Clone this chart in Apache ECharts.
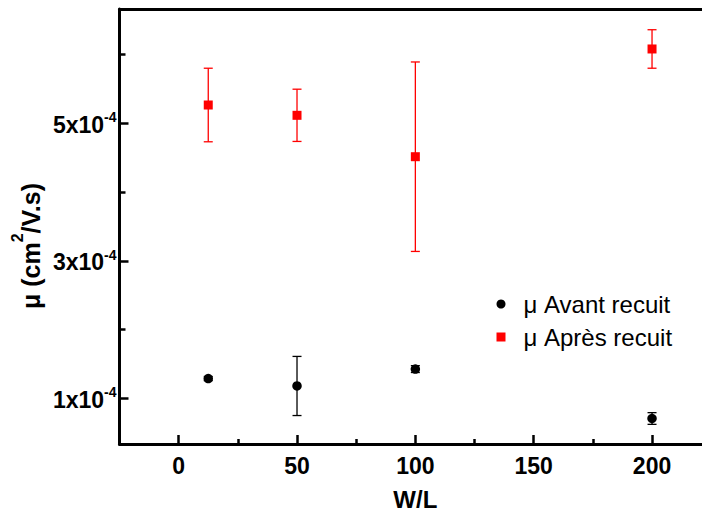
<!DOCTYPE html>
<html><head><meta charset="utf-8">
<script src="https://cdn.jsdelivr.net/npm/echarts@6.0.0/dist/echarts.min.js"></script>
<style>html,body{margin:0;padding:0;background:#fff}#c{width:702px;height:519px}</style>
</head><body><div id="c"></div>
<script>
// ---- data ----
const wl = [12.5, 50, 100, 200];
const avant = [1.287e-4, 1.179e-4, 1.425e-4, 0.706e-4];
const avantErr = [0.03e-4, 0.43e-4, 0.05e-4, 0.085e-4];
const apres = [5.266e-4, 5.116e-4, 4.514e-4, 6.081e-4];
const apresErr = [0.535e-4, 0.38e-4, 1.378e-4, 0.28e-4];
const xMajorTicks = [0, 50, 100, 150, 200];
const xMinorTicks = [25, 75, 125, 175];
const yMajorTicks = [1e-4, 3e-4, 5e-4];
const yMinorTicks = [2e-4, 4e-4, 6e-4];
const seriesNames = ['μ Avant recuit', 'μ Après recuit'];
const xTitle = 'W/L';

const FONT = 'Liberation Sans, Arial, sans-serif';
const X_MIN = -25, X_MAX = 225, Y_MIN = 0.335e-4, Y_MAX = 6.6625e-4;

const chart = echarts.init(document.getElementById('c'), null, {renderer: 'svg'});

function errData(vals, errs) {
  return wl.map((x, i) => [x, vals[i] - errs[i], vals[i] + errs[i]]);
}
function errSeries(vals, errs, color) {
  return {
    type: 'custom', name: 'err-' + color, xAxisIndex: 0, yAxisIndex: 0, z: 2,
    data: errData(vals, errs), encode: {x: 0, y: [1, 2]}, silent: true,
    renderItem: function (params, api) {
      const x = api.value(0), lo = api.value(1), hi = api.value(2);
      const a = api.coord([x, hi]), b = api.coord([x, lo]);
      const hw = 4.5;
      const st = {stroke: color, lineWidth: 1.3, fill: null};
      return {type: 'group', children: [
        {type: 'line', shape: {x1: a[0], y1: a[1], x2: b[0], y2: b[1]}, style: st},
        {type: 'line', shape: {x1: a[0] - hw, y1: a[1], x2: a[0] + hw, y2: a[1]}, style: st},
        {type: 'line', shape: {x1: b[0] - hw, y1: b[1], x2: b[0] + hw, y2: b[1]}, style: st}
      ]};
    }
  };
}

const axisLineStyle = {color: '#000', width: 3};
const tickStyle = {color: '#000', width: 2.5};

const option = {
  animation: false,
  backgroundColor: '#fff',
  grid: {left: 119.5, width: 591.7, top: 9, bottom: 75, containLabel: false, outerBoundsMode: 'none'},
  xAxis: [
    {type: 'value', position: 'bottom', min: X_MIN, max: X_MAX,
     axisLine: {show: true, onZero: false, lineStyle: axisLineStyle},
     axisTick: {show: true, inside: true, length: 9, lineStyle: tickStyle, customValues: xMajorTicks},
     axisLabel: {show: true, margin: 10, customValues: xMajorTicks, fontSize: 23, fontWeight: 'bold', color: '#000', fontFamily: FONT},
     splitLine: {show: false},
     name: xTitle, nameLocation: 'middle', nameGap: 43,
     nameTextStyle: {fontSize: 24, fontWeight: 'bold', color: '#000', fontFamily: FONT}},
    {type: 'value', position: 'bottom', min: X_MIN, max: X_MAX,
     axisLine: {show: false, onZero: false},
     axisTick: {show: true, inside: true, length: 5, lineStyle: tickStyle, customValues: xMinorTicks},
     axisLabel: {show: false}, splitLine: {show: false}},
    {type: 'value', position: 'top', min: X_MIN, max: X_MAX,
     axisLine: {show: true, onZero: false, lineStyle: axisLineStyle},
     axisTick: {show: false}, axisLabel: {show: false}, splitLine: {show: false}}
  ],
  yAxis: [
    {type: 'value', position: 'left', min: Y_MIN, max: Y_MAX,
     axisLine: {show: true, onZero: false, lineStyle: axisLineStyle},
     axisTick: {show: true, inside: true, length: 9, lineStyle: tickStyle, customValues: yMajorTicks},
     axisLabel: {show: true, margin: 3, customValues: yMajorTicks,
       formatter: v => '{b|' + Math.round(v / 1e-4) + 'x10}{s|-4}',
       rich: {
         b: {fontSize: 23, fontWeight: 'bold', color: '#000', fontFamily: FONT, lineHeight: 23, verticalAlign: 'bottom'},
         s: {fontSize: 14, fontWeight: 'bold', color: '#000', fontFamily: FONT, lineHeight: 26, verticalAlign: 'top'}
       }},
     splitLine: {show: false}},
    {type: 'value', position: 'left', min: Y_MIN, max: Y_MAX,
     axisLine: {show: false, onZero: false},
     axisTick: {show: true, inside: true, length: 6, lineStyle: tickStyle, customValues: yMinorTicks},
     axisLabel: {show: false}, splitLine: {show: false}}
  ],
  graphic: [{
    type: 'text', x: 26, y: 246, rotation: Math.PI / 2, z: 10,
    style: {
      text: '{b|μ (cm}{s|2}{b|/V.s)}', align: 'center', verticalAlign: 'middle',
      rich: {
        b: {fontSize: 25, fontWeight: 'bold', fill: '#000', fontFamily: FONT, lineHeight: 26, verticalAlign: 'bottom'},
        s: {fontSize: 16, fontWeight: 'bold', fill: '#000', fontFamily: FONT, lineHeight: 34, verticalAlign: 'top'}
      }
    }
  }],
  legend: {
    orient: 'vertical', left: 496.5, top: 292, itemGap: 9, padding: 0,
    itemWidth: 9, itemHeight: 9,
    data: [{name: seriesNames[0], icon: 'circle'}, {name: seriesNames[1], icon: 'rect'}],
    textStyle: {fontSize: 24, color: '#000', fontFamily: FONT, lineHeight: 22, padding: [0, 0, 0, 13]},
    selectedMode: false
  },
  series: [
    errSeries(avant, avantErr, '#000000'),
    errSeries(apres, apresErr, '#ff0000'),
    {type: 'scatter', name: seriesNames[0], xAxisIndex: 0, yAxisIndex: 0, z: 5,
     symbol: 'circle', symbolSize: 9.5, itemStyle: {color: '#000', opacity: 1},
     data: wl.map((x, i) => [x, avant[i]])},
    {type: 'scatter', name: seriesNames[1], xAxisIndex: 0, yAxisIndex: 0, z: 5,
     symbol: 'rect', symbolSize: 9, itemStyle: {color: '#ff0000', opacity: 1},
     data: wl.map((x, i) => [x, apres[i]])}
  ]
};
chart.setOption(option);
</script>
</body></html>
